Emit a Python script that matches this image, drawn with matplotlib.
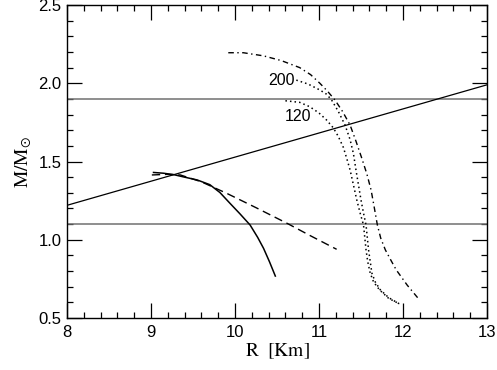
import matplotlib
matplotlib.use("Agg")
import matplotlib.pyplot as plt
from matplotlib.ticker import MultipleLocator, FormatStrFormatter

# mass-radius curves (R in km, M in solar masses)
solid_r = [9.03, 9.15, 9.27, 9.40, 9.55, 9.70, 9.82, 9.94, 10.06, 10.18, 10.27, 10.34, 10.41, 10.48]
solid_m = [1.430, 1.425, 1.416, 1.40, 1.382, 1.352, 1.302, 1.233, 1.165, 1.094, 1.015, 0.945, 0.86, 0.768]

dashed_r = [9.01, 9.20, 9.35, 9.60, 9.90, 10.25, 10.62, 10.90, 11.21]
dashed_m = [1.414, 1.418, 1.414, 1.37, 1.297, 1.205, 1.105, 1.025, 0.939]

dashdot_r = [9.92, 10.10, 10.34, 10.55, 10.77, 10.90, 11.01, 11.10, 11.19, 11.28, 11.37, 11.44,
             11.51, 11.57, 11.62, 11.66, 11.695, 11.735, 11.79, 11.86, 11.92, 12.05, 12.18]
dashdot_m = [2.195, 2.195, 2.175, 2.145, 2.10, 2.055, 2.0, 1.95, 1.893, 1.82, 1.733, 1.63,
             1.52, 1.42, 1.318, 1.20, 1.094, 1.01, 0.935, 0.865, 0.807, 0.71, 0.626]

dot200_r = [10.73, 10.87, 11.01, 11.09, 11.15, 11.23, 11.31, 11.37, 11.41, 11.44, 11.47,
            11.50, 11.53, 11.56, 11.59, 11.61, 11.63, 11.67, 11.73, 11.83, 11.98]
dot200_m = [2.02, 1.995, 1.957, 1.93, 1.893, 1.82, 1.733, 1.64, 1.55, 1.446, 1.35,
            1.254, 1.17, 1.094, 0.935, 0.86, 0.786, 0.73, 0.68, 0.63, 0.583]

dot120_r = [10.60, 10.77, 10.89, 11.00, 11.09, 11.17, 11.23, 11.29, 11.33, 11.37, 11.41,
            11.45, 11.49, 11.53, 11.56, 11.58, 11.61, 11.65, 11.72, 11.83, 11.96]
dot120_m = [1.888, 1.878, 1.85, 1.81, 1.765, 1.715, 1.66, 1.59, 1.52, 1.446, 1.35,
            1.254, 1.17, 1.094, 0.935, 0.86, 0.786, 0.73, 0.68, 0.625, 0.59]

# constraint lines
line_r = [8, 13]
line_m = [1.22, 1.99]
h_levels = [1.9, 1.1]

labels = ["200", "120"]
label_r = [10.55, 10.75]
label_m = [2.016, 1.79]

plt.rcParams["font.family"] = ["Liberation Sans", "DejaVu Sans"]
plt.rcParams["mathtext.fontset"] = "stix"

fig = plt.figure(figsize=(4.97, 3.70), dpi=100)
ax = fig.add_axes([67 / 497, 52 / 370, 420 / 497, 313 / 370])

for lev in h_levels:
    ax.axhline(lev, color="#707070", lw=1.1)
ax.plot(line_r, line_m, color="black", lw=0.9)

ax.plot(solid_r, solid_m, color="black", lw=1.1)
ax.plot(dashed_r, dashed_m, color="black", lw=1.0, linestyle=(0, (6, 3.5)))
ax.plot(dashdot_r, dashdot_m, color="black", lw=1.0, linestyle=(0, (4, 2.5, 1, 2.5)))
ax.plot(dot200_r, dot200_m, color="black", lw=1.1, linestyle=(0, (1, 2)))
ax.plot(dot120_r, dot120_m, color="black", lw=1.1, linestyle=(0, (1, 2)))

for txt, xr, ym in zip(labels, label_r, label_m):
    ax.text(xr, ym, txt, ha="center", va="center", fontsize=11.5)

ax.set_xlim(8, 13)
ax.set_ylim(0.5, 2.5)
ax.xaxis.set_major_locator(MultipleLocator(1))
ax.xaxis.set_minor_locator(MultipleLocator(0.2))
ax.yaxis.set_major_locator(MultipleLocator(0.5))
ax.yaxis.set_minor_locator(MultipleLocator(0.1))
ax.yaxis.set_major_formatter(FormatStrFormatter("%.1f"))

ax.tick_params(which="both", direction="in", top=True, right=True, width=0.9)
ax.tick_params(which="major", length=10.5, labelsize=12)
ax.tick_params(which="minor", length=4)
ax.tick_params(axis="x", pad=5)
ax.tick_params(axis="y", pad=4)
for sp in ax.spines.values():
    sp.set_linewidth(1.0)

ax.set_xlabel(r"$\mathrm{R\ \ [Km]}$", fontsize=14, labelpad=1)
ax.set_ylabel(r"$\mathrm{M/M_{\odot}}$", fontsize=14, labelpad=3)

fig.savefig("out.png", dpi=100)
